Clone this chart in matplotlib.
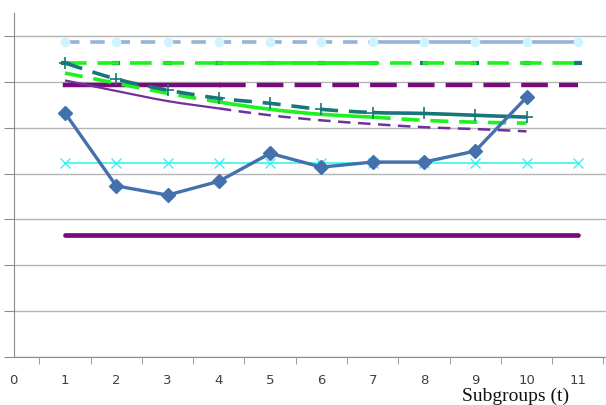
import matplotlib.pyplot as plt
from matplotlib.path import Path
from matplotlib.patches import PathPatch
from matplotlib.ticker import FixedLocator, NullFormatter

# subgroup index
t = [1, 2, 3, 4, 5, 6, 7, 8, 9, 10]
t_full = [1, 2, 3, 4, 5, 6, 7, 8, 9, 10, 11]

# observed statistic per subgroup
observed = [5.32, 3.73, 3.53, 3.83, 4.44, 4.14, 4.25, 4.25, 4.49, 5.66]

# adaptive limits (shrink with t)
limit_teal = [6.41, 6.06, 5.82, 5.64, 5.53, 5.40, 5.33, 5.31, 5.27, 5.23]
limit_green = [6.19, 5.97, 5.75, 5.56, 5.40, 5.29, 5.23, 5.16, 5.12, 5.10]
limit_purple = [6.03, 5.80, 5.58, 5.42, 5.27, 5.16, 5.08, 5.01, 4.97, 4.92]

# fixed limits
ucl_top = 6.86
ucl_green = 6.41
ucl_purple = 5.93
center = 4.23
lcl = 2.66

PURPLE = '#7A0B7D'
VIOLET = '#7030A0'
GREEN = '#1FF01F'
TEAL = '#17767A'
BLUE = '#4470AD'
LIGHTBLUE = '#95B3D7'

fig = plt.figure(figsize=(6.06, 4.05), dpi=100)
ax = fig.add_axes([13.7 / 606, (405 - 357) / 405, 1 - 13.7 / 606, (357 - 13) / 405])


def flat(v, xs):
    return [v] * len(xs)


def smooth(ax, xs, ys, start, stop, **kw):
    # smoothed line (Catmull-Rom as cubic Bezier) over points start..stop
    n = len(xs)
    verts = [(xs[start], ys[start])]
    codes = [Path.MOVETO]
    for i in range(start, stop):
        p0 = max(i - 1, 0)
        p3 = min(i + 2, n - 1)
        c1 = (xs[i] + (xs[i + 1] - xs[p0]) / 6, ys[i] + (ys[i + 1] - ys[p0]) / 6)
        c2 = (xs[i + 1] - (xs[p3] - xs[i]) / 6, ys[i + 1] - (ys[p3] - ys[i]) / 6)
        verts += [c1, c2, (xs[i + 1], ys[i + 1])]
        codes += [Path.CURVE4] * 3
    ax.add_patch(PathPatch(Path(verts, codes), fill=False, **kw))


# top limit: dashed then long-dash, light cyan markers
ax.plot(t_full[:7], flat(ucl_top, t_full[:7]), color=LIGHTBLUE, lw=2.6,
        dashes=(4, 3), zorder=2)
ax.plot(t_full[6:], flat(ucl_top, t_full[6:]), color=LIGHTBLUE, lw=2.6, zorder=2)
ax.plot(t_full, flat(ucl_top, t_full), ls='none', marker='o', ms=6,
        color='#CFF3FF', zorder=3)

# green fixed limit with teal marks
ax.plot(t_full, flat(ucl_green, t_full), ls='none', marker='_', ms=6, mew=3,
        color=TEAL, zorder=2)
ax.plot(t_full, flat(ucl_green, t_full), color=GREEN, lw=2.6, dashes=(6, 3), zorder=3)
ax.plot(t_full[3:7], flat(ucl_green, t_full[3:7]), color=GREEN, lw=2.6, zorder=3)

# purple fixed limit
ax.plot(t_full[:4], flat(ucl_purple, t_full[:4]), color=PURPLE, lw=3.2, zorder=2)
ax.plot(t_full[3:], flat(ucl_purple, t_full[3:]), color=PURPLE, lw=3.2,
        dashes=(6, 2.5), zorder=2)

# adaptive limits
smooth(ax, t, limit_teal, 0, 6, color=TEAL, lw=2.6, ls=(0, (5, 3)), zorder=4)
smooth(ax, t, limit_teal, 6, 9, color=TEAL, lw=2.6, zorder=4)
ax.plot(t, limit_teal, ls='none', marker='+', ms=8, mew=1.2, color=TEAL, zorder=4)

smooth(ax, t, limit_green, 0, 3, color=GREEN, lw=2.6, ls=(0, (5, 3)), zorder=3)
smooth(ax, t, limit_green, 3, 6, color=GREEN, lw=2.6, zorder=3)
smooth(ax, t, limit_green, 6, 9, color=GREEN, lw=2.6, ls=(0, (5, 3)), zorder=3)

smooth(ax, t, limit_purple, 0, 3, color=VIOLET, lw=1.6, zorder=3)
smooth(ax, t, limit_purple, 3, 9, color=VIOLET, lw=1.8, ls=(0, (5, 3)), zorder=3)

# center line
ax.plot(t_full, flat(center, t_full), color='#3DF2F2', lw=1.2, marker='x',
        ms=7, mew=1.0, zorder=2)

# lower limit
ax.plot(t_full, flat(lcl, t_full), color=PURPLE, lw=3.4, solid_capstyle='round', zorder=2)

# observed values
ax.plot(t, observed, color=BLUE, lw=2.4, marker='D', ms=7.5, zorder=5)

ax.set_xlim(0, 11.55)
ax.set_ylim(0, 7.5)

ax.set_yticks(range(0, 8))
ax.yaxis.grid(True, color='#B4B4B4', lw=1.0)
ax.set_axisbelow(True)
ax.tick_params(axis='y', length=7, color='#8C8C8C', labelleft=False)

ax.set_xticks(range(0, 12))
ax.xaxis.set_minor_locator(FixedLocator([i + 0.5 for i in range(0, 12)]))
ax.xaxis.set_minor_formatter(NullFormatter())
ax.tick_params(axis='x', which='major', length=0, pad=12, labelsize=9.5,
               labelcolor='#404040')
ax.tick_params(axis='x', which='minor', length=5, color='#8C8C8C')

for side in ['top', 'right']:
    ax.spines[side].set_visible(False)
for side in ['left', 'bottom']:
    ax.spines[side].set_color('#8C8C8C')
ax.spines['left'].set_bounds(0, 7.5)

fig.text(516 / 606, (405 - 396) / 405, 'Subgroups (t)', ha='center', va='center',
         fontsize=14, family='Liberation Serif', color='#111111')

fig.savefig('out.png', dpi=100)
